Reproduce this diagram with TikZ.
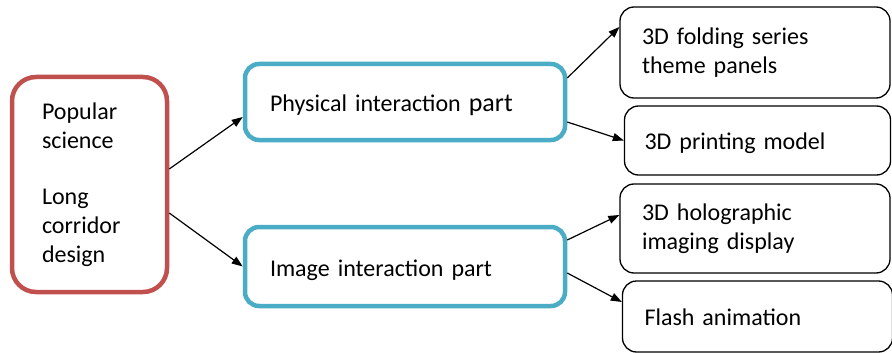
\documentclass[tikz,border=0pt]{standalone}
\usepackage{fontspec}
\setmainfont{Carlito}
\usetikzlibrary{arrows.meta}
\definecolor{boxred}{HTML}{C0504D}
\definecolor{boxblue}{HTML}{4BACC6}

\begin{document}
\begin{tikzpicture}[x=1pt,y=-1pt,>={Triangle[length=11pt,width=8pt]},
  boxbase/.style={rounded corners=14pt,align=left,inner ysep=0pt,font=\fontsize{24}{29}\selectfont},
  topicbox/.style={boxbase,draw=boxred,line width=4.5pt,rounded corners=24pt,minimum width=155pt,minimum height=215pt,text width=95pt,inner xsep=30pt},
  partbox/.style={boxbase,draw=boxblue,line width=4.5pt,minimum width=320pt,text width=270pt,inner xsep=25pt,text height=19pt,text depth=0pt},
  itembox/.style={boxbase,draw,line width=1.3pt,text width=226pt,inner xsep=22pt},
  oneline/.style={text height=17pt,text depth=0pt},
  link/.style={->,line width=1.2pt}]
  \useasboundingbox (0,0) rectangle (892,353);
  % left: the topic
  \node[topicbox] (pop) at (89.5,184.5) {Popular\\science\\[27pt]Long\\corridor\\design};
  % middle: the two parts
  \node[partbox,minimum height=76pt] (phys) at (405,102) {Physical interaction {\fontsize{26}{29}\selectfont part}};
  \node[partbox,minimum height=79pt] (img) at (405,266.5) {Image interaction part};
  % right: what each part holds
  \node[itembox,minimum width=270pt,minimum height=91pt] (fold) at (755,52.5) {3D folding series\\theme panels};
  \node[itembox,oneline,minimum width=265pt,minimum height=69pt,inner xsep=20pt] (print) at (757.5,140.5) {3D printing model};
  \node[itembox,minimum width=270pt,minimum height=89pt] (holo) at (755,228.5) {3D holographic\\imaging display\\[10pt]};
  \node[itembox,oneline,minimum width=265pt,minimum height=71pt] (flash) at (757.5,316.5) {Flash animation};
  \draw[link] ([yshift=15.5pt]pop.east) -- ([yshift=-15pt]phys.west);
  \draw[link] ([yshift=-28.5pt]pop.east) -- (img.west);
  \draw[link] ([yshift=24pt]phys.east) -- ([yshift=25.5pt]fold.west);
  \draw[link] ([yshift=-20pt]phys.east) -- (print.west);
  \draw[link] ([yshift=26.5pt]img.east) -- ([yshift=13.5pt]holo.west);
  \draw[link] ([yshift=-6.5pt]img.east) -- ([yshift=14.5pt]flash.west);
\end{tikzpicture}
\end{document}
